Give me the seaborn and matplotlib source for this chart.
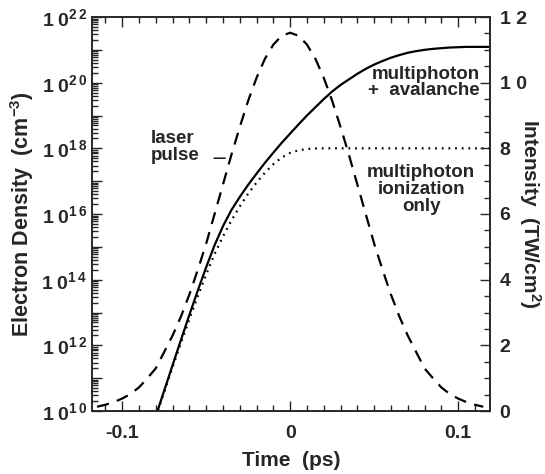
import numpy as np
import pandas as pd
import matplotlib
matplotlib.use("Agg")
import matplotlib.pyplot as plt
import seaborn as sns
from matplotlib.ticker import FuncFormatter, MultipleLocator, FixedLocator

# ---- data ----
time_ps = [-0.080, -0.075, -0.070, -0.065, -0.060, -0.055, -0.050, -0.045, -0.040,
           -0.035, -0.030, -0.025, -0.020, -0.015, -0.010, -0.005, 0.000, 0.005,
           0.010, 0.015, 0.020, 0.025, 0.030, 0.035, 0.040, 0.045, 0.050, 0.055,
           0.060, 0.065, 0.070, 0.075, 0.080, 0.085, 0.090, 0.095, 0.100, 0.105,
           0.110, 0.115, 0.120]
# log10 electron density, multiphoton + avalanche
log_n_avalanche = [9.85, 10.62, 11.40, 12.17, 12.93, 13.67, 14.38, 15.05, 15.63,
                   16.12, 16.52, 16.89, 17.23, 17.56, 17.87, 18.17, 18.45, 18.73,
                   19.00, 19.25, 19.50, 19.73, 19.93, 20.10, 20.27, 20.42, 20.55,
                   20.66, 20.76, 20.84, 20.91, 20.96, 21.00, 21.03, 21.05, 21.07,
                   21.08, 21.09, 21.09, 21.09, 21.09]
# log10 electron density, multiphoton ionization only
log_n_multiphoton = [9.83, 10.58, 11.34, 12.08, 12.80, 13.50, 14.16, 14.78, 15.32,
                     15.80, 16.23, 16.62, 16.96, 17.26, 17.52, 17.72, 17.86, 17.94,
                     17.98, 17.995, 18.0, 18.0, 18.0, 18.0, 18.0, 18.0, 18.0,
                     18.0, 18.0, 18.0, 18.0, 18.0, 18.0, 18.0, 18.0, 18.0,
                     18.0, 18.0, 18.0, 18.0, 18.0]

pulse_time_ps = [-0.115, -0.110, -0.105, -0.100, -0.095, -0.090, -0.085, -0.080,
                 -0.075, -0.070, -0.065, -0.060, -0.055, -0.050, -0.045, -0.040,
                 -0.035, -0.030, -0.025, -0.020, -0.015, -0.010, -0.005, 0.000,
                 0.005, 0.010, 0.015, 0.020, 0.025, 0.030, 0.035, 0.040, 0.045,
                 0.050, 0.055, 0.060, 0.065, 0.070, 0.075, 0.080, 0.085, 0.090,
                 0.095, 0.100, 0.105, 0.110, 0.115]
pulse_intensity = [0.13, 0.19, 0.27, 0.38, 0.52, 0.72, 1.00, 1.30, 1.80, 2.30,
                   2.88, 3.55, 4.30, 5.10, 6.00, 6.90, 7.80, 8.65, 9.45, 10.15,
                   10.73, 11.16, 11.43, 11.52, 11.43, 11.16, 10.73, 10.15, 9.45,
                   8.65, 7.80, 6.90, 6.00, 5.10, 4.30, 3.55, 2.88, 2.30, 1.80,
                   1.30, 1.00, 0.72, 0.52, 0.38, 0.27, 0.19, 0.13]

x_ticks = [-0.1, 0.0, 0.1]
x_tick_labels = ["-0.1", "0", "0.1"]
left_exponents = [10, 11, 12, 13, 14, 15, 16, 17, 18, 19, 20, 21, 22]
right_ticks = [0, 2, 4, 6, 8, 10, 12]
right_tick_labels = ["0", "2", "4", "6", "8", "1 0", "1 2"]

dens = pd.DataFrame({
    "t": time_ps,
    "aval": 10.0 ** np.array(log_n_avalanche),
    "mpi": 10.0 ** np.array(log_n_multiphoton),
})
pulse = pd.DataFrame({"t": pulse_time_ps, "I": pulse_intensity})

# ---- style ----
sns.set_theme(style="ticks")
plt.rcParams["font.family"] = ["Liberation Sans", "DejaVu Sans"]
plt.rcParams["font.weight"] = "bold"
plt.rcParams["mathtext.fontset"] = "custom"
plt.rcParams["mathtext.rm"] = "Liberation Sans:bold"
plt.rcParams["mathtext.bf"] = "Liberation Sans:bold"
plt.rcParams["mathtext.it"] = "Liberation Sans:bold"
plt.rcParams["axes.linewidth"] = 1.2

fig = plt.figure(figsize=(5.45, 4.74), dpi=100)
ax = fig.add_axes([92 / 545, 1 - 411 / 474, (490 - 92) / 545, (411 - 17) / 474])
ax2 = ax.twinx()

sns.lineplot(data=dens, x="t", y="aval", ax=ax, color="black", lw=1.6)
sns.lineplot(data=dens, x="t", y="mpi", ax=ax, color="black", lw=1.6,
             linestyle=(0, (0.8, 2.2)))
sns.lineplot(data=pulse, x="t", y="I", ax=ax2, color="black", lw=1.6,
             linestyle=(0, (5.5, 3.8)))

ax.set_yscale("log")
ax.set_xlim(-0.118, 0.119)
ax.set_ylim(1e10, 1e22)
ax2.set_ylim(0, 12)

# x ticks
ax.xaxis.set_major_locator(FixedLocator(x_ticks))
ax.set_xticklabels(x_tick_labels)
ax.xaxis.set_minor_locator(MultipleLocator(0.01))

# left log ticks
major_vals = [10.0 ** e for e in left_exponents]
minor_vals = [m * 10.0 ** e for e in left_exponents[:-1] for m in range(2, 10)]
ax.yaxis.set_major_locator(FixedLocator(major_vals))
ax.yaxis.set_minor_locator(FixedLocator(minor_vals))


def fmt(v, pos):
    e = int(round(np.log10(v)))
    if e % 2:
        return ""
    s = str(e)
    return r"$1\;0^{%s\,%s}$" % (s[0], s[1])


ax.yaxis.set_major_formatter(FuncFormatter(fmt))

ax2.yaxis.set_major_locator(FixedLocator(right_ticks))
ax2.set_yticklabels(right_tick_labels)
ax2.yaxis.set_minor_locator(MultipleLocator(0.5))

ax.tick_params(which="both", direction="in", top=True, right=False, width=1.0)
ax.tick_params(axis="y", labelsize=14)
ax.tick_params(axis="x", labelsize=14, pad=10)
ax.tick_params(which="major", length=7)
ax.tick_params(which="minor", length=4)
ax2.tick_params(which="both", direction="in", right=True, labelsize=14, width=1.0)
ax2.tick_params(which="major", length=7, pad=7)
ax2.tick_params(which="minor", length=4)

ax.set_xlabel("Time  (ps)", fontsize=15, fontweight="bold", va="center")
ax.xaxis.set_label_coords(0.5, -0.125)
ax.set_ylabel("Electron Density  (cm$^{-3}$)", fontsize=15.5, fontweight="bold",
              va="center")
ax.yaxis.set_label_coords(-0.176, 0.5)
ax2.set_ylabel("Intensity  (TW/cm$^{2}$)", fontsize=15, fontweight="bold",
               rotation=-90, va="center")
ax2.yaxis.set_label_coords(1.1, 0.5)

# annotations
ax2.text(0.113, 10.0, "multiphoton\n+  avalanche", ha="right", va="center",
         fontsize=13.5, fontweight="bold", linespacing=0.95)
ax2.text(0.078, 6.75, "multiphoton\nionization\nonly", ha="center", va="center",
         fontsize=13.5, fontweight="bold", linespacing=1.0)
ax2.text(-0.083, 8.05, "laser\npulse", ha="left", va="center",
         fontsize=13.5, fontweight="bold", linespacing=1.0)
ax2.annotate("", xy=(-0.037, 7.7), xytext=(-0.047, 7.7),
             arrowprops=dict(arrowstyle="-", lw=1.0, color="black"))

fig.savefig("out.png", dpi=100)
